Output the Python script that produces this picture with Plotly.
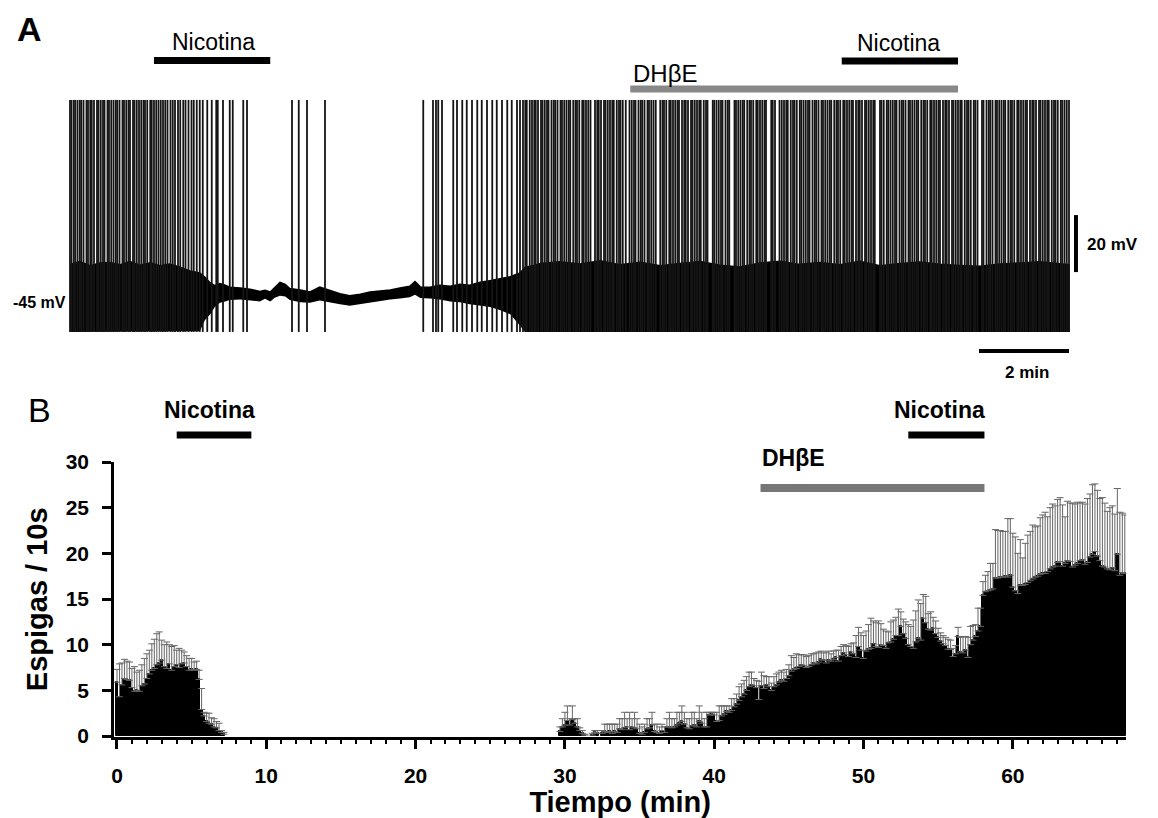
import plotly.graph_objects as go

# ======================= Panel A : example recording =======================
# spike times in seconds from the start of the trace
spike_times_s = [
    0, 2, 5, 7, 10, 13, 15, 18, 22, 24, 27, 29, 32, 36, 38, 41, 44, 46, 50, 52,
    55, 58, 61, 63, 66, 70, 72, 75, 78, 80, 84, 86, 89, 92, 95, 98, 100, 103, 107, 109,
    112, 115, 118, 121, 124, 127, 130, 134, 137, 140, 144, 147, 151, 154, 158, 162, 165, 169, 173, 177,
    183, 189, 195, 197, 204, 213, 217, 231, 236, 296, 305, 316, 340,
    471, 484, 488, 491, 496, 511, 516, 523, 529, 536, 543, 549, 556, 563, 569, 576, 583, 589, 596, 600,
    604, 607, 609, 613, 616, 619, 621, 624, 628, 630, 633, 636, 638, 642, 645, 647, 650, 654, 656, 659,
    662, 665, 667, 671, 674, 676, 679, 683, 685, 688, 691, 694, 700, 703, 705, 708, 712, 714, 717,
    720, 723, 725, 729, 732, 734, 737, 741, 746, 749, 752, 754, 758, 761, 763, 766, 770, 772, 775,
    778, 781, 787, 790, 792, 795, 799, 801, 804, 807, 810, 812, 816, 819, 821, 824, 828, 830, 833,
    836, 839, 841, 845, 848, 850, 857, 859, 862, 865, 868, 870, 874, 877, 879, 886, 888, 891,
    894, 897, 899, 903, 906, 908, 911, 915, 917, 920, 923, 926, 928, 935, 937, 940, 946, 949,
    952, 955, 957, 961, 964, 966, 969, 973, 975, 978, 981, 984, 986, 990, 993, 995, 998, 1002, 1004, 1007,
    1010, 1013, 1015, 1019, 1022, 1024, 1027, 1031, 1033, 1036, 1039, 1042, 1044, 1048, 1051, 1053, 1056, 1060, 1062, 1065,
    1068, 1071, 1073, 1080, 1082, 1085, 1089, 1091, 1094, 1097, 1100, 1102, 1106, 1109, 1111, 1114, 1118, 1120, 1123,
    1126, 1129, 1131, 1135, 1138, 1140, 1143, 1147, 1149, 1152, 1155, 1158, 1160, 1164, 1167, 1169, 1172, 1176, 1178, 1181,
    1184, 1187, 1189, 1193, 1196, 1198, 1201, 1205, 1207, 1210, 1216, 1218, 1222, 1225, 1227, 1230, 1234, 1236, 1239,
    1242, 1245, 1247, 1251, 1254, 1256, 1259, 1263, 1265, 1268, 1271, 1274, 1276, 1280, 1283, 1285, 1288, 1292, 1294, 1297,
    1300, 1303, 1305, 1309, 1312, 1314, 1317, 1321, 1323, 1326, 1329, 1332,
]
spike_peak_mV = 25.2      # spikes run off the top of the displayed window
spike_trough_mV = -56.2   # and off the bottom

# membrane-potential envelope (upper / lower edge of the noisy trace)
env_t_s = [0, 13, 27, 40, 53, 67, 80, 93, 107, 120, 133, 147, 160, 173, 180, 187, 193, 200, 207, 213,
           227, 240, 253, 260, 267, 273, 280, 287, 293, 307, 320, 333, 347, 360, 373, 387, 400, 413, 427, 440,
           453, 460, 467, 480, 493, 507, 520, 533, 547, 560, 573, 587, 600, 607, 620, 627, 653, 680, 707, 733,
           760, 787, 813, 840, 867, 893, 920, 947, 973, 1000, 1027, 1053, 1080, 1107, 1133, 1160, 1187, 1213, 1240, 1267,
           1293, 1320, 1333]
env_hi_mV = [-32.5, -31.5, -33.0, -32.0, -31.8, -32.6, -31.5, -32.8, -31.9, -33.0, -32.4, -33.5, -34.8, -35.5, -37.0, -39.0, -40.0, -39.2, -39.8, -40.5,
             -40.8, -41.2, -42.0, -41.6, -42.2, -40.6, -38.8, -39.5, -41.0, -41.5, -42.2, -40.5, -41.8, -42.8, -43.5, -43.0, -42.2, -41.8, -41.5, -40.8,
             -40.2, -38.5, -40.4, -40.5, -39.8, -40.2, -39.5, -39.8, -38.8, -38.2, -37.5, -36.8, -35.5, -33.5, -32.8, -32.2, -31.6, -32.4, -31.2, -32.6,
             -31.8, -33.0, -32.2, -31.5, -32.8, -33.4, -32.0, -31.4, -32.5, -31.8, -32.6, -31.4, -33.0, -32.2, -31.7, -32.5, -32.9, -33.2, -32.4, -32.0,
             -31.6, -32.3, -32.6]
env_lo_mV = [-56.2, -56.2, -56.2, -56.2, -56.2, -56.2, -56.2, -56.2, -56.2, -56.2, -56.2, -56.2, -56.2, -56.0, -52.0, -50.0, -47.5, -46.0, -45.5, -45.0,
             -44.8, -45.2, -45.5, -44.6, -45.5, -44.2, -43.5, -43.8, -45.0, -45.8, -46.0, -45.2, -46.0, -46.5, -47.0, -46.4, -45.8, -45.3, -44.8, -44.5,
             -44.0, -43.2, -44.3, -44.5, -44.8, -45.5, -45.8, -46.5, -47.0, -47.5, -48.5, -50.0, -54.0, -56.2, -56.2, -56.2, -56.2, -56.2, -56.2, -56.2,
             -56.2, -56.2, -56.2, -56.2, -56.2, -56.2, -56.2, -56.2, -56.2, -56.2, -56.2, -56.2, -56.2, -56.2, -56.2, -56.2, -56.2, -56.2, -56.2, -56.2,
             -56.2, -56.2, -56.2]

# drug application periods in panel A (s)
nic1_A = [112, 267]
nic2_A = [1029, 1184]
dhbe_A = [747, 1184]
holding_label_mV = -46
scale_t_s = [1212, 1332]        # 2 min
scale_v_mV = [-35.2, -15.2]     # 20 mV

# ======================= Panel B : spikes / 10 s =======================
bin_min = 1.0 / 6.0
spikes_mean = [
    5.9, 4.3, 5.6, 6.3, 6.2, 6.1,
    5.3, 4.9, 5.0, 4.9, 5.5, 5.7,
    6.3, 6.8, 7.2, 7.4, 7.8, 8.0,
    8.3, 7.6, 7.4, 7.9, 7.2, 7.6,
    7.8, 7.5, 7.9, 8.0, 7.6, 7.2,
    7.3, 7.2, 7.3, 6.2, 2.9, 2.2,
    1.6, 1.4, 1.3, 1.0, 0.9, 0.6,
    0.4, 0.2, 0, 0, 0, 0,
    0, 0, 0, 0, 0, 0,
    0, 0, 0, 0, 0, 0,
    0, 0, 0, 0, 0, 0,
    0, 0, 0, 0, 0, 0,
    0, 0, 0, 0, 0, 0,
    0, 0, 0, 0, 0, 0,
    0, 0, 0, 0, 0, 0,
    0, 0, 0, 0, 0, 0,
    0, 0, 0, 0, 0, 0,
    0, 0, 0, 0, 0, 0,
    0, 0, 0, 0, 0, 0,
    0, 0, 0, 0, 0, 0,
    0, 0, 0, 0, 0, 0,
    0, 0, 0, 0, 0, 0,
    0, 0, 0, 0, 0, 0,
    0, 0, 0, 0, 0, 0,
    0, 0, 0, 0, 0, 0,
    0, 0, 0, 0, 0, 0,
    0, 0, 0, 0, 0, 0,
    0, 0, 0, 0, 0, 0,
    0, 0, 0, 0, 0, 0,
    0, 0, 0, 0, 0.5, 1.0,
    1.2, 1.7, 1.2, 1.8, 1.4, 1.0,
    0.6, 0.3, 0.1, 0, 0, 0.1,
    0.4, 0.3, 0.0, 0.3, 0.5, 0.4,
    0.5, 0.3, 0.5, 0.4, 0.8, 0.7,
    0.9, 1.0, 0.7, 1.0, 0.9, 0.8,
    0.3, 0.2, 0.4, 0.8, 0.9, 1.2,
    0.5, 0.4, 0.3, 0.6, 0.4, 1.0,
    1.0, 0.9, 1.0, 1.2, 1.4, 1.6,
    1.3, 0.9, 0.8, 1.1, 1.2, 1.0,
    1.6, 1.4, 1.0, 1.0, 2.3, 2.4,
    2.3, 1.6, 1.7, 2.2, 2.4, 2.7,
    2.6, 2.8, 3.2, 3.5, 3.9, 4.3,
    4.6, 5.0, 5.4, 5.6, 5.5, 5.3,
    4.0, 5.5, 5.2, 5.6, 5.4, 5.0,
    5.4, 5.6, 5.9, 6.1, 6.0, 6.3,
    6.6, 7.1, 7.3, 7.4, 7.6, 7.8,
    7.7, 7.5, 7.6, 7.8, 8.0, 7.9,
    8.1, 8.4, 8.3, 8.0, 8.3, 8.2,
    8.4, 8.6, 8.2, 8.8, 9.1, 8.9,
    8.7, 9.2, 9.0, 8.6, 9.8, 9.4,
    8.5, 9.3, 9.5, 9.6, 10.1, 9.8,
    9.7, 10.0, 9.9, 9.6, 10.2, 10.3,
    10.6, 11.0, 11.0, 12.0, 11.2, 10.7,
    10.0, 9.8, 9.6, 10.3, 10.7, 10.5,
    12.9, 12.4, 11.7, 11.6, 11.8, 11.2,
    10.8, 10.4, 10.1, 9.9, 9.5, 9.5,
    8.7, 9.0, 10.9, 9.2, 9.1, 9.4,
    8.6, 10.0, 10.5, 10.9, 11.5, 12.0,
    15.4, 15.8, 15.9, 16.0, 16.1, 17.3,
    17.3, 17.4, 17.4, 17.5, 17.4, 17.6,
    16.3, 15.9, 15.6, 16.5, 16.5, 16.6,
    16.8, 17.0, 17.2, 17.4, 17.5, 17.7,
    17.8, 17.8, 18.0, 18.3, 18.5, 18.6,
    19.0, 19.1, 18.6, 18.9, 19.2, 19.1,
    18.5, 18.7, 18.9, 19.2, 19.3, 18.8,
    19.0, 19.6, 19.9, 20.2, 19.7, 19.2,
    18.6, 18.5, 18.3, 18.2, 18.4, 18.1,
    19.9, 17.6, 17.9, 17.8,
]
# top of each SEM bar
spikes_upper = [
    7.3, 7.9, 8.0, 8.4, 8.2, 8.1,
    7.4, 7.6, 7.0, 7.2, 7.8, 8.5,
    9.0, 9.4, 10.1, 10.6, 11.2, 11.4,
    10.5, 10.0, 10.3, 10.0, 9.8, 9.9,
    9.4, 9.6, 9.4, 9.2, 8.8, 8.5,
    8.5, 8.1, 8.2, 7.2, 5.2, 2.6,
    2.5, 2.5, 2.0, 1.9, 1.6, 1.4,
    0.6, 0.4, 0, 0, 0, 0,
    0, 0, 0, 0, 0, 0,
    0, 0, 0, 0, 0, 0,
    0, 0, 0, 0, 0, 0,
    0, 0, 0, 0, 0, 0,
    0, 0, 0, 0, 0, 0,
    0, 0, 0, 0, 0, 0,
    0, 0, 0, 0, 0, 0,
    0, 0, 0, 0, 0, 0,
    0, 0, 0, 0, 0, 0,
    0, 0, 0, 0, 0, 0,
    0, 0, 0, 0, 0, 0,
    0, 0, 0, 0, 0, 0,
    0, 0, 0, 0, 0, 0,
    0, 0, 0, 0, 0, 0,
    0, 0, 0, 0, 0, 0,
    0, 0, 0, 0, 0, 0,
    0, 0, 0, 0, 0, 0,
    0, 0, 0, 0, 0, 0,
    0, 0, 0, 0, 0, 0,
    0, 0, 0, 0, 0, 0,
    0, 0, 0, 0, 0, 0,
    0, 0, 0, 0, 1.0, 1.9,
    2.6, 3.3, 1.9, 3.3, 1.9, 1.9,
    0.9, 0.6, 0.2, 0, 0, 0.3,
    0.6, 0.6, 0.1, 0.6, 1.3, 1.3,
    1.3, 1.3, 1.3, 1.3, 1.9, 1.9,
    2.6, 1.9, 2.6, 1.9, 2.6, 1.9,
    1.3, 1.0, 1.3, 1.9, 1.9, 2.6,
    1.3, 1.3, 1.0, 1.3, 1.0, 1.9,
    2.6, 1.9, 1.9, 2.6, 2.6, 3.3,
    2.6, 1.9, 1.9, 2.6, 2.6, 1.9,
    3.3, 2.6, 1.9, 2.6, 2.6, 2.6,
    2.6, 2.6, 3.3, 3.3, 3.3, 3.3,
    3.3, 4.1, 4.1, 4.6, 5.4, 5.7,
    6.1, 6.5, 7.0, 7.0, 6.3, 6.1,
    6.0, 7.0, 6.6, 6.5, 6.5, 5.8,
    6.5, 6.8, 7.0, 7.2, 7.0, 7.3,
    7.8, 8.8, 8.6, 9.0, 8.9, 8.9,
    8.9, 8.7, 8.8, 9.0, 9.0, 9.1,
    9.2, 9.3, 9.1, 9.2, 9.3, 9.0,
    9.3, 9.4, 9.4, 9.8, 10.0, 9.9,
    9.8, 10.1, 10.2, 11.0, 11.9, 11.3,
    11.0, 11.5, 12.2, 12.9, 12.6, 12.4,
    12.6, 12.3, 11.7, 11.5, 11.4, 12.5,
    12.7, 13.0, 13.9, 13.6, 12.8, 12.5,
    12.2, 12.0, 12.7, 13.7, 14.9, 14.5,
    15.5, 15.3, 13.4, 13.6, 13.0, 12.6,
    11.8, 11.3, 11.0, 10.8, 10.6, 10.5,
    9.6, 9.9, 11.9, 10.8, 10.9, 10.9,
    10.8, 12.0, 12.1, 12.2, 14.0, 14.0,
    16.9, 17.6, 18.0, 18.9, 18.9, 22.6,
    22.5, 22.5, 22.4, 22.4, 23.8, 23.8,
    22.2, 21.8, 20.0, 21.5, 19.5, 21.1,
    22.0, 22.4, 23.1, 22.9, 23.0, 23.9,
    24.2, 24.5, 24.0, 25.0, 25.4, 25.2,
    25.9, 26.1, 25.3, 24.0, 25.7, 25.5,
    25.5, 25.4, 25.6, 25.5, 25.6, 25.4,
    26.0, 26.5, 27.5, 27.6, 26.9, 26.0,
    26.1, 25.5, 24.6, 25.0, 25.2, 24.3,
    27.1, 24.5, 24.4, 24.2,
]
nic1_B = [4.0, 9.0]
nic2_B = [53.0, 58.1]
dhbe_B = [43.1, 58.1]
x_ticks_B = [0, 10, 20, 30, 40, 50, 60]
y_ticks_B = [0, 5, 10, 15, 20, 25, 30]

# ======================= build figure =======================
W, H = 1158, 818
FONT = "Liberation Sans, Arial, Helvetica, sans-serif"

def px_x(p):
    return p / W

def px_y(p):
    return 1 - p / H

fig = go.Figure()

# --- panel A traces
fig.add_trace(go.Scatter(x=env_t_s, y=env_lo_mV, mode="lines", line=dict(width=0, color="black"),
                         xaxis="x", yaxis="y", hoverinfo="skip"))
fig.add_trace(go.Scatter(x=env_t_s, y=env_hi_mV, mode="lines", fill="tonexty", fillcolor="black",
                         line=dict(width=1.5, color="black"), xaxis="x", yaxis="y", hoverinfo="skip"))
sx, sy = [], []
for t in spike_times_s:
    sx += [t, t, None]
    sy += [spike_trough_mV, spike_peak_mV, None]
fig.add_trace(go.Scatter(x=sx, y=sy, mode="lines", line=dict(width=1.8, color="#151515"),
                         xaxis="x", yaxis="y", hoverinfo="skip"))

# --- panel B bars (SEM drawn upward only; bins with no spikes and no SEM get no error bar)
bin_t = [i * bin_min for i in range(len(spikes_mean))]
mean_plot = [m if m > 0 else None for m in spikes_mean]
err_up = [(u - m) if u > 0 else None for u, m in zip(spikes_upper, spikes_mean)]
err_down = [0 if u > 0 else None for u in spikes_upper]
fig.add_trace(go.Bar(x=bin_t, y=mean_plot, width=bin_min,
                     marker=dict(color="black", line=dict(width=1.0, color="black")),
                     error_y=dict(type="data", symmetric=False, array=err_up, arrayminus=err_down,
                                  color="#666666", thickness=1, width=3.5),
                     xaxis="x2", yaxis="y2"))

# panel A axis: pixel 70 -> t=0 s ; 45 px per minute ; -45 mV at y=300 px ; 2.85 px per mV
a_x0 = (0 - 70) * 60 / 45
a_x1 = (W - 70) * 60 / 45
a_y_top = -45 + (300 - 0) / 2.85
a_y_bot = -45 + (300 - 400) / 2.85

axis_off = dict(visible=False, showgrid=False, zeroline=False, fixedrange=True, automargin=False)

fig.update_layout(
    width=W, height=H, margin=dict(l=0, r=0, t=0, b=0, pad=0, autoexpand=False),
    paper_bgcolor="white", plot_bgcolor="rgba(0,0,0,0)",
    showlegend=False, bargap=0,
    font=dict(family=FONT, color="black"),
    xaxis=dict(domain=[0, 1], range=[a_x0, a_x1], anchor="y", **axis_off),
    yaxis=dict(domain=[px_y(400), 1], range=[a_y_bot, a_y_top], anchor="x", **axis_off),
    xaxis2=dict(domain=[px_x(114), px_x(1126.3)], range=[-0.2, 67.6], anchor="y2", automargin=False,
                tickmode="array", tickvals=x_ticks_B, ticks="outside", ticklen=10, tickwidth=2.5,
                tickcolor="black", showline=True, linewidth=2.5, linecolor="black",
                showgrid=False, zeroline=False, ticklabelstandoff=8,
                tickfont=dict(size=21, family=FONT, weight="bold"),
                minor=dict(dtick=1, tick0=0, ticks="outside", ticklen=5, tickwidth=2,
                           tickcolor="black", showgrid=False),
                title=dict(text="Tiempo (min)", font=dict(size=29, family=FONT, weight="bold"), standoff=6)),
    yaxis2=dict(domain=[px_y(736.6), px_y(462)], range=[-0.06, 30], anchor="x2", automargin=False,
                tickmode="array", tickvals=y_ticks_B, ticks="outside", ticklen=9, tickwidth=2.5,
                tickcolor="black", showline=True, linewidth=2.5, linecolor="black",
                showgrid=False, zeroline=False, ticklabelstandoff=9,
                tickfont=dict(size=21, family=FONT, weight="bold"),
                title=dict(text="Espigas / 10s", font=dict(size=29, family=FONT, weight="bold"), standoff=10)),
)

shapes = []
# panel A bars
shapes.append(dict(type="line", xref="x", yref="y", x0=nic1_A[0], x1=nic1_A[1], y0=39.0, y1=39.0,
                   line=dict(color="black", width=7)))
shapes.append(dict(type="line", xref="x", yref="y", x0=nic2_A[0], x1=nic2_A[1], y0=38.9, y1=38.9,
                   line=dict(color="black", width=7)))
shapes.append(dict(type="line", xref="x", yref="y", x0=dhbe_A[0], x1=dhbe_A[1], y0=29.0, y1=29.0,
                   line=dict(color="#888888", width=7)))
# scale bars
shapes.append(dict(type="line", xref="x", yref="y", x0=scale_t_s[0], x1=scale_t_s[1], y0=-62.9, y1=-62.9,
                   line=dict(color="black", width=4)))
shapes.append(dict(type="line", xref="x", yref="y", x0=1341.3, x1=1341.3, y0=scale_v_mV[0], y1=scale_v_mV[1],
                   line=dict(color="black", width=4)))
# panel B bars
shapes.append(dict(type="line", xref="x2", yref="paper", x0=nic1_B[0], x1=nic1_B[1], y0=px_y(435), y1=px_y(435),
                   line=dict(color="black", width=7)))
shapes.append(dict(type="line", xref="x2", yref="paper", x0=nic2_B[0], x1=nic2_B[1], y0=px_y(435), y1=px_y(435),
                   line=dict(color="black", width=7)))
shapes.append(dict(type="line", xref="x2", yref="paper", x0=dhbe_B[0], x1=dhbe_B[1], y0=px_y(488), y1=px_y(488),
                   line=dict(color="#777777", width=8)))
fig.update_layout(shapes=shapes)

ann = []
def add_text(text, x, y, xref, yref, size, bold=False, xanchor="center", yanchor="middle"):
    ann.append(dict(text=text, x=x, y=y, xref=xref, yref=yref, showarrow=False,
                    xanchor=xanchor, yanchor=yanchor,
                    font=dict(size=size, family=FONT, color="black", weight="bold" if bold else "normal")))

add_text("A", px_x(29), px_y(29), "paper", "paper", 34, bold=True)
add_text("Nicotina", 190.7, 45.5, "x", "y", 23)
add_text("Nicotina", 1105, 45.2, "x", "y", 23)
add_text("DHβE", 748, 34.6, "x", "y", 24, xanchor="left")
add_text("-45 mV", -3, holding_label_mV, "x", "y", 16, bold=True, xanchor="right")
add_text("20 mV", 1353.3, -25.7, "x", "y", 17, bold=True, xanchor="left")
add_text("2 min", 1276, -70.6, "x", "y", 17, bold=True)

add_text("B", px_x(39), px_y(410), "paper", "paper", 34)
add_text("Nicotina", 6.2, px_y(410), "x2", "paper", 23, bold=True)
add_text("Nicotina", 55.1, px_y(410), "x2", "paper", 23, bold=True)
add_text("DHβE", 45.3, px_y(458), "x2", "paper", 23, bold=True)
fig.update_layout(annotations=ann)

fig.write_html("out.html")
